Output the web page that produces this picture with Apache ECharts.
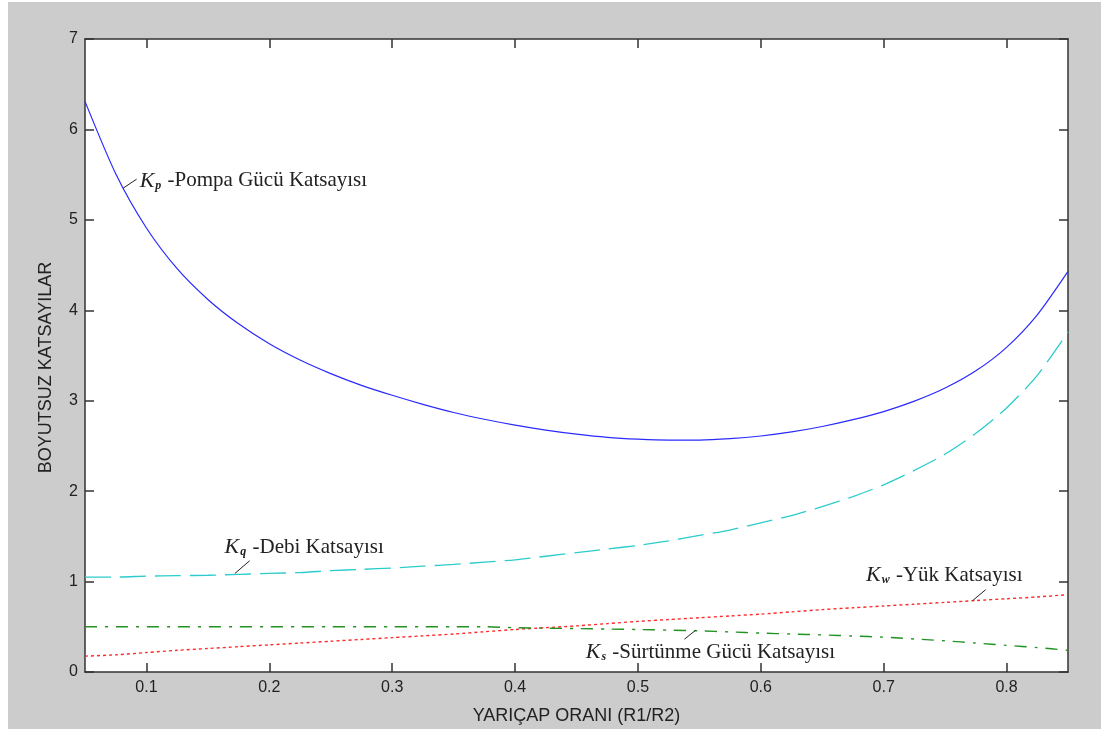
<!DOCTYPE html>
<html>
<head>
<meta charset="utf-8">
<script src="https://cdn.jsdelivr.net/npm/echarts@6/dist/echarts.min.js"></script>
<style>
html,body{margin:0;padding:0;background:#ffffff;width:1101px;height:729px;overflow:hidden;}
#chart{position:absolute;left:8px;top:2px;width:1093px;height:727px;background:#cccccc;}
</style>
</head>
<body>
<div id="chart"></div>
<script>
// ---- data ----
const xs  = [0.05,0.075,0.1,0.125,0.15,0.175,0.2,0.225,0.25,0.275,0.3,0.325,0.35,0.375,0.4,0.425,0.45,0.475,0.5,0.525,0.55,0.575,0.6,0.625,0.65,0.675,0.7,0.725,0.75,0.775,0.8,0.825,0.85];
const kp  = [6.31,5.51,4.91,4.46,4.12,3.85,3.63,3.45,3.30,3.17,3.06,2.96,2.87,2.795,2.73,2.675,2.63,2.595,2.575,2.565,2.565,2.58,2.61,2.655,2.715,2.79,2.88,2.995,3.14,3.33,3.59,3.95,4.43];
const kq  = [1.05,1.05,1.06,1.065,1.07,1.08,1.09,1.10,1.12,1.135,1.15,1.17,1.19,1.215,1.24,1.28,1.32,1.36,1.40,1.45,1.51,1.57,1.65,1.73,1.83,1.94,2.07,2.23,2.41,2.64,2.92,3.28,3.76];
const kw  = [0.175,0.19,0.215,0.24,0.26,0.28,0.30,0.32,0.34,0.36,0.38,0.40,0.42,0.445,0.47,0.49,0.51,0.535,0.56,0.58,0.60,0.62,0.64,0.665,0.69,0.71,0.73,0.75,0.77,0.79,0.81,0.83,0.855];
const ks  = [0.50,0.50,0.50,0.50,0.50,0.50,0.50,0.50,0.50,0.50,0.50,0.50,0.50,0.50,0.49,0.485,0.48,0.475,0.47,0.463,0.455,0.443,0.43,0.42,0.41,0.398,0.385,0.365,0.345,0.32,0.295,0.27,0.24];
const xTicks = [0.1,0.2,0.3,0.4,0.5,0.6,0.7,0.8];
const xTitle = 'YARIÇAP ORANI (R1/R2)';
const yTitle = 'BOYUTSUZ KATSAYILAR';
// annotations: symbol, subscript, rest of text, curve anchor, pointer end, text anchor (data coords)
const notes = [
  {k:'K', sub:'p', rest:' -Pompa Gücü Katsayısı', anchor:[0.081,5.35], end:[0.092,5.45], text:[0.0945,5.43]},
  {k:'K', sub:'q', rest:' -Debi Katsayısı', anchor:[0.172,1.09], end:[0.184,1.23], text:[0.1636,1.38]},
  {k:'K', sub:'w', rest:' -Yük Katsayısı', anchor:[0.7724,0.79], end:[0.783,0.91], text:[0.6856,1.07]},
  {k:'K', sub:'s', rest:' -Sürtünme Gücü Katsayısı', anchor:[0.5468,0.46], end:[0.5378,0.362], text:[0.4575,0.22]}
];

const pairs = arr => xs.map((x,i)=>[x,arr[i]]);
const axisCol = '#333333';
const sans = 'Liberation Sans, Arial, sans-serif';
const serif = 'Liberation Serif, Times New Roman, serif';
const labelFont = {fontFamily:sans, fontSize:16, color:'#222222'};

const chart = echarts.init(document.getElementById('chart'), null, {renderer:'canvas'});
const baseX = {
  type:'value', min:0.05, max:0.85,
  axisLine:{show:true, onZero:false, lineStyle:{color:axisCol, width:1.5}},
  splitLine:{show:false}
};
const baseY = {
  type:'value', min:0, max:7, interval:1,
  axisLine:{show:true, onZero:false, lineStyle:{color:axisCol, width:1.5}},
  splitLine:{show:false}
};
chart.setOption({
  backgroundColor:'#cccccc',
  animation:false,
  grid:{left:77, top:37, right:33, bottom:57, outerBoundsMode:'none', containLabel:false, show:true, backgroundColor:'#ffffff', borderWidth:0},
  xAxis:[
    Object.assign({}, baseX, {
      position:'bottom',
      name:xTitle, nameLocation:'middle', nameGap:35,
      nameTextStyle:{fontFamily:sans, fontSize:18, color:'#222222'},
      axisTick:{show:true, inside:true, length:9, customValues:xTicks, lineStyle:{color:axisCol, width:1.5}},
      axisLabel:Object.assign({show:true, margin:8, customValues:xTicks, formatter:v=>v.toFixed(1)}, labelFont)
    }),
    Object.assign({}, baseX, {
      position:'top',
      axisTick:{show:true, inside:true, length:9, customValues:xTicks, lineStyle:{color:axisCol, width:1.5}},
      axisLabel:{show:false}
    })
  ],
  yAxis:[
    Object.assign({}, baseY, {
      position:'left',
      name:yTitle, nameLocation:'middle', nameGap:30, nameRotate:90,
      nameTextStyle:{fontFamily:sans, fontSize:18, color:'#222222', padding:[0,24,0,0]},
      axisTick:{show:true, inside:true, length:9, lineStyle:{color:axisCol, width:1.5}},
      axisLabel:Object.assign({show:true, margin:7}, labelFont)
    }),
    Object.assign({}, baseY, {
      position:'right',
      axisTick:{show:true, inside:true, length:9, lineStyle:{color:axisCol, width:1.5}},
      axisLabel:{show:false}
    })
  ],
  series:[
    {name:'Kp', type:'line', data:pairs(kp), smooth:0.25, showSymbol:false, lineStyle:{color:'#2a2aff', width:1.2}},
    {name:'Kq', type:'line', data:pairs(kq), smooth:0.25, showSymbol:false, lineStyle:{color:'#2ccccc', width:1.3, type:[26,9]}},
    {name:'Kw', type:'line', data:pairs(kw), smooth:0.25, showSymbol:false, lineStyle:{color:'#ff2a2a', width:1.4, type:[3,3]}},
    {name:'Ks', type:'line', data:pairs(ks), smooth:0.25, showSymbol:false, lineStyle:{color:'#229222', width:1.4, type:[12,8,3,8]}}
  ]
});

function drawNotes(){
  const g = [];
  notes.forEach(n=>{
    const a = chart.convertToPixel({gridIndex:0}, n.anchor);
    const e = chart.convertToPixel({gridIndex:0}, n.end);
    const t = chart.convertToPixel({gridIndex:0}, n.text);
    g.push({type:'line', shape:{x1:a[0], y1:a[1], x2:e[0], y2:e[1]}, style:{stroke:'#222222', lineWidth:1}, z:100});
    g.push({type:'text', x:t[0], y:t[1], z:100, style:{
      text:'{k|'+n.k+'}{s|'+n.sub+'}{r|'+n.rest+'}',
      verticalAlign:'middle', align:'left',
      rich:{
        k:{fontFamily:serif, fontStyle:'italic', fontSize:22, fill:'#222222'},
        s:{fontFamily:serif, fontStyle:'italic', fontWeight:'bold', fontSize:12, fill:'#222222', padding:[10,1,0,1]},
        r:{fontFamily:serif, fontSize:21, fill:'#222222'}
      }
    }});
  });
  chart.setOption({graphic:g});
}
drawNotes();
</script>
</body>
</html>
